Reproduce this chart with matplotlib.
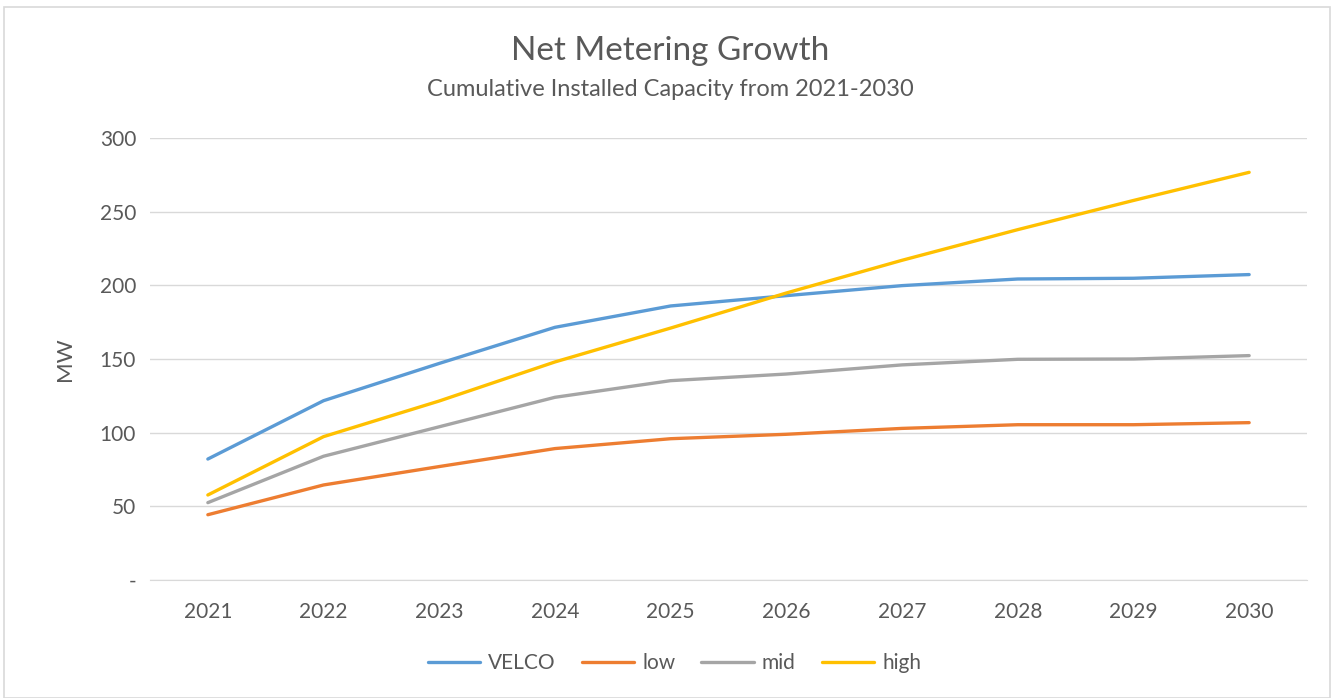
import matplotlib
matplotlib.use("Agg")
import matplotlib.pyplot as plt
from matplotlib.patches import Rectangle

years = ["2021", "2022", "2023", "2024", "2025", "2026", "2027", "2028", "2029", "2030"]
velco = [82.1, 121.7, 147, 171.5, 186, 193, 199.8, 204.3, 204.8, 207.3]
low = [44.3, 64.5, 77, 89.2, 95.9, 98.9, 102.9, 105.4, 105.4, 106.8]
mid = [52.5, 84, 104, 124, 135.3, 139.8, 146, 149.8, 150, 152.3]
high = [57.7, 97.3, 121.5, 148, 171, 194.8, 217, 237.8, 257.6, 276.7]

series = [("VELCO", velco, "#5B9BD5"), ("low", low, "#ED7D31"),
          ("mid", mid, "#A5A5A5"), ("high", high, "#FFC000")]

txt = "#595959"
plt.rcParams['font.family'] = ['Lato', 'DejaVu Sans']

fig = plt.figure(figsize=(13.33, 6.98), dpi=100)
fig.patches.append(Rectangle((0.003, 0.0), 0.995, 0.99, transform=fig.transFigure,
                             fill=False, edgecolor="#D9D9D9", linewidth=1.2))

ax = fig.add_axes([150/1333, 1-580/698, (1307-150)/1333, (580-138)/698])
x = list(range(len(years)))
for name, vals, col in series:
    ax.plot(x, vals, color=col, linewidth=2.4, label=name, solid_capstyle="round")

ax.set_xlim(-0.5, len(years)-0.5)
ax.set_ylim(0, 300)
ax.set_yticks([0, 50, 100, 150, 200, 250, 300])
ax.set_yticklabels(["-", "50", "100", "150", "200", "250", "300"])
ax.set_xticks(x)
ax.set_xticklabels(years)
ax.tick_params(axis="both", length=0, colors=txt, labelsize=15)
ax.tick_params(axis="y", pad=10)
ax.tick_params(axis="x", pad=16)
ax.grid(axis="y", color="#D9D9D9", linewidth=1)
ax.set_axisbelow(True)
for s in ["top", "right", "left"]:
    ax.spines[s].set_visible(False)
ax.spines["bottom"].set_color("#D9D9D9")
ax.set_ylabel("MW", color=txt, fontsize=16, labelpad=18)

fig.text(0.503, 1-51/698, "Net Metering Growth", ha="center", va="center",
         fontsize=24, color=txt)
fig.text(0.503, 1-90/698, "Cumulative Installed Capacity from 2021-2030", ha="center",
         va="center", fontsize=17, color=txt)

fig.legend(loc="center", bbox_to_anchor=(0.506, 1-663/698), ncol=4, frameon=False,
           fontsize=15, labelcolor=txt, handlelength=2.5, columnspacing=1.25,
           handletextpad=0.4)

fig.savefig("out.png", dpi=100)
